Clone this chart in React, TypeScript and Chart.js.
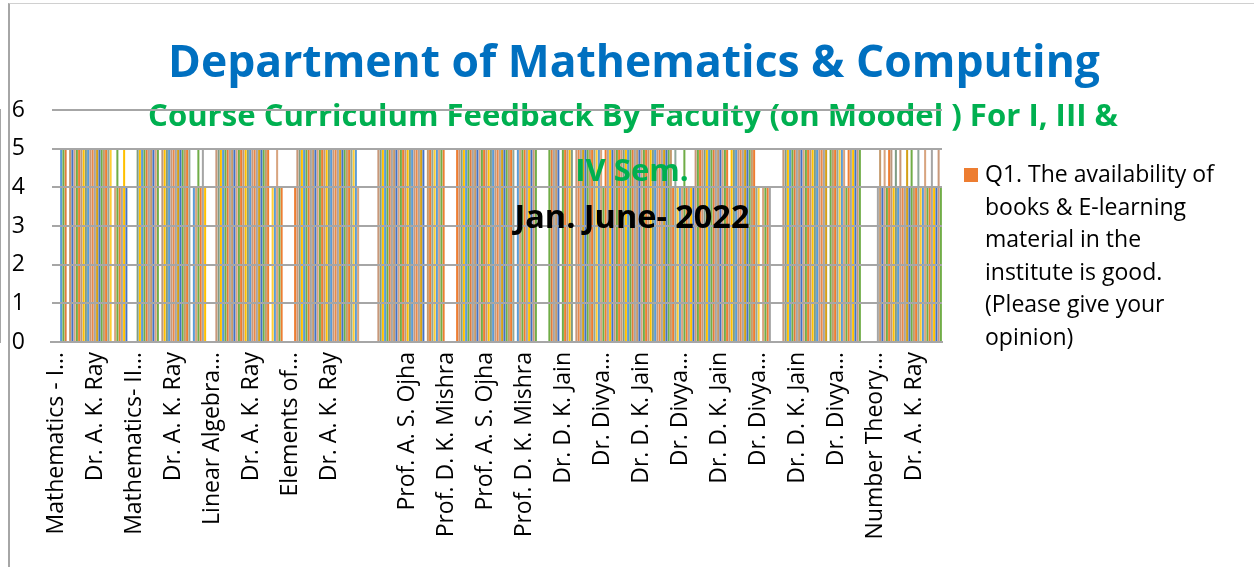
import React, { useEffect, useRef } from 'react';
import { Chart, registerables } from 'chart.js';

Chart.register(...registerables);

const N = null;

const TITLE = 'Department of Mathematics & Computing';
const SUBTITLE_LINE_1 = 'Course Curriculum Feedback By Faculty (on Moodel ) For I, III &';
const SUBTITLE_LINE_2 = 'IV Sem.';
const SESSION = 'Jan. June- 2022';

// tick labels shown under the plot (one per slot)
const X_LABELS = [
  'Mathematics - I…', 'Dr. A. K. Ray', 'Mathematics- II…', 'Dr. A. K. Ray',
  'Linear Algebra…', 'Dr. A. K. Ray', 'Elements of…', 'Dr. A. K. Ray', '',
  'Prof. A. S. Ojha', 'Prof. D. K. Mishra', 'Prof. A. S. Ojha', 'Prof. D. K. Mishra',
  'Dr. D. K. Jain', 'Dr. Divya…', 'Dr. D. K. Jain', 'Dr. Divya…', 'Dr. D. K. Jain',
  'Dr. Divya…', 'Dr. D. K. Jain', 'Dr. Divya…', 'Number Theory…', 'Dr. A. K. Ray',
];

// course / faculty groups that carry the bars
const CATEGORIES = [
  'Mathematics - I / Dr. A. K. Ray', 'Mathematics- II / Dr. A. K. Ray',
  'Linear Algebra / Dr. A. K. Ray', 'Elements of / Dr. A. K. Ray',
  'Prof. A. S. Ojha / Prof. D. K. Mishra', 'Prof. A. S. Ojha / Prof. D. K. Mishra (2)',
  'Dr. D. K. Jain / Dr. Divya (1)', 'Dr. D. K. Jain / Dr. Divya (2)',
  'Dr. D. K. Jain / Dr. Divya (3)', 'Dr. D. K. Jain / Dr. Divya (4)',
  'Number Theory / Dr. A. K. Ray',
];

const Y_MIN = 0;
const Y_MAX = 6;

const SERIES_NAMES = [
  'Q1. The availability of books & E-learning material in the institute is good. (Please give your opinion)',
  'Q2', 'Q3', 'Q4', 'Q5', 'Q6', 'Q7', 'Q8', 'Q9', 'Q10', 'Q11', 'Q12',
  'Q13', 'Q14', 'Q15', 'Q16', 'Q17', 'Q18', 'Q19', 'Q20', 'Q21', 'Q22', 'Q23', 'Q24',
  'Q25', 'Q26', 'Q27', 'Q28', 'Q29', 'Q30', 'Q31', 'Q32', 'Q33', 'Q34', 'Q35', 'Q36',
];

const SERIES_COLORS = [
  '#ED7D31', '#C8987A', '#7F9C86', '#FFC000', '#5B9BD5', '#70AD47',
  '#E07B3C', '#A5A5A5', '#C49A6C', '#4472C4', '#D8A47F', '#70AD47',
  '#ED7D31', '#B9977F', '#FFC000', '#7F9C86', '#5B9BD5', '#C8987A',
  '#E8894A', '#A5A5A5', '#D4A017', '#4472C4', '#70AD47', '#C49A6C',
  '#ED7D31', '#8FA89A', '#FFCD33', '#5B9BD5', '#D8A47F', '#70AD47',
  '#ED7D31', '#A5A5A5', '#FFC000', '#4472C4', '#C8987A', '#70AD47',
];

// values per group, one entry per question (Q1..Q36); null = no response
const CAT01 = [N, N, N, N, 5, 5, 5, N, 5, 5, 5, 5, 5, 5, 5, 5, 5, 5, 5, 5, 5, 5, 5, 5, 5, 5, 5, N, 4, 5, 4, 4, 5, 4, N, N];
const CAT02 = [N, N, 5, 5, 5, 5, 5, 5, 5, 5, 5, 5, N, 5, 5, 5, 5, 5, 5, 5, 5, 5, 5, 5, 5, 5, N, 4, 4, 5, 4, 5, 4, N, N, N];
const CAT03 = [N, 5, 5, 5, 5, 5, 5, 5, 5, 5, 5, 5, 5, 5, 5, 5, 5, 5, 5, 5, 5, 5, 5, 5, 5, N, 4, 4, 5, 4, 4, N, N, N, N, N];
const CAT04 = [4, 5, 5, 5, 5, 5, 5, 5, 5, 5, 5, 5, 5, 5, 5, 5, 5, 5, 5, 5, 5, 5, 5, 5, 5, 5, 5, 5, 4, N, N, N, N, N, N, N];
const CAT05 = [N, 5, 5, 5, 5, 5, 5, 5, 5, 5, 5, 5, 5, 5, 5, 5, 5, 5, 5, 5, 5, 5, N, 5, 5, 5, 5, 5, 5, 5, 5, N, N, N, N, N];
const CAT06 = [5, 5, 5, 5, 5, 5, 5, 5, 5, 5, 5, 5, 5, 5, 5, 5, 5, 5, 5, 5, 5, 5, 5, 5, 5, 5, N, 5, 5, 5, 5, 5, 5, 5, 5, 5];
const CAT07 = [N, N, N, N, N, 5, 5, 5, 5, 5, N, 5, 5, 5, 5, 5, N, 5, 5, 5, 5, 5, 5, 5, 5, 5, 5, 5, 5, 4, 5, 5, 5, 5, 5, 5];
const CAT08 = [5, 5, 5, 5, 5, 5, 5, 5, 5, 5, 5, 5, 5, 5, 5, 5, 5, 5, 5, 5, 5, 5, 5, 5, 4, 5, 4, 4, 4, 5, 4, 4, 4, 4, 5, 5];
const CAT09 = [5, 5, 5, 5, 5, 5, 5, 5, 5, 5, 5, 5, 5, 4, 5, 5, 5, 5, 5, 5, 5, 5, 5, 5, 5, 4, 4, N, 4, 4, 4, 4, N, N, N, N];
const CAT10 = [N, 5, 5, 5, 5, 5, 5, 5, 5, 5, 5, 5, 5, 5, 5, 5, 5, 5, 5, 5, 5, N, 5, 5, 5, 5, 5, 5, 5, 4, 5, 5, 5, 5, 5, 5];
const CAT11 = [N, N, N, N, N, N, N, 4, 5, 4, 5, 4, 5, 5, 4, 5, 4, 5, 4, 4, 5, 4, 5, 4, 4, 5, 4, 4, 5, 4, 4, 5, 4, 4, 5, 4];

const GROUPS = [CAT01, CAT02, CAT03, CAT04, CAT05, CAT06, CAT07, CAT08, CAT09, CAT10, CAT11];

const FONT = '"Open Sans", "DejaVu Sans", sans-serif';
const GRID = '#A6A6A6';

function fitFont(ctx: CanvasRenderingContext2D, text: string, weight: string, width: number) {
  ctx.font = `${weight} 100px ${FONT}`;
  const w = ctx.measureText(text).width;
  return (100 * width) / w;
}

function wrap(ctx: CanvasRenderingContext2D, text: string, maxWidth: number) {
  const words = text.split(' ');
  const lines: string[] = [];
  let cur = '';
  for (const w of words) {
    const test = cur ? cur + ' ' + w : w;
    if (cur && ctx.measureText(test).width > maxWidth) {
      lines.push(cur);
      cur = w;
    } else {
      cur = test;
    }
  }
  if (cur) lines.push(cur);
  return lines;
}

const overlayPlugin = {
  id: 'overlayTexts',
  afterDatasetsDraw(chart: any) {
    const ctx: CanvasRenderingContext2D = chart.ctx;
    ctx.save();
    ctx.textAlign = 'center';
    ctx.textBaseline = 'alphabetic';

    const tSize = fitFont(ctx, TITLE, 'bold', 932);
    ctx.font = `bold ${tSize}px ${FONT}`;
    ctx.fillStyle = '#0070C0';
    ctx.fillText(TITLE, 634, 77);

    const sSize = fitFont(ctx, SUBTITLE_LINE_1, 'bold', 970);
    ctx.font = `bold ${sSize}px ${FONT}`;
    ctx.fillStyle = '#00B050';
    ctx.fillText(SUBTITLE_LINE_1, 633, 126);
    ctx.fillText(SUBTITLE_LINE_2, 632, 181);
    ctx.restore();
  },
  afterDraw(chart: any) {
    const ctx: CanvasRenderingContext2D = chart.ctx;
    ctx.save();
    ctx.textAlign = 'center';
    ctx.textBaseline = 'alphabetic';
    const jSize = fitFont(ctx, SESSION, 'bold', 235);
    ctx.font = `bold ${jSize}px ${FONT}`;
    ctx.fillStyle = '#000000';
    ctx.fillText(SESSION, 632, 228);

    ctx.font = `23px ${FONT}`;
    ctx.textAlign = 'left';
    ctx.fillStyle = SERIES_COLORS[0];
    ctx.fillRect(964, 168, 14, 14);
    ctx.fillStyle = '#000000';
    const lines = wrap(ctx, SERIES_NAMES[0], 245);
    lines.forEach((ln, i) => ctx.fillText(ln, 985, 182 + i * 32.6));
    ctx.restore();
  },
};

export default function App() {
  const ref = useRef<HTMLCanvasElement>(null);

  useEffect(() => {
    if (!ref.current) return;
    const datasets = SERIES_NAMES.map((name, s) => ({
      label: name,
      data: GROUPS.map((g) => g[s]),
      backgroundColor: SERIES_COLORS[s],
      borderWidth: 0,
      categoryPercentage: 1,
      barPercentage: 0.9,
      xAxisID: 'x',
      yAxisID: 'y',
    }));

    const chart = new Chart(ref.current, {
      type: 'bar',
      data: { labels: CATEGORIES, datasets },
      plugins: [overlayPlugin],
      options: {
        animation: false,
        responsive: false,
        devicePixelRatio: 1,
        layout: { padding: { left: 0, right: 312, top: 110, bottom: 0 } },
        plugins: {
          legend: { display: false },
          title: { display: false },
          tooltip: { enabled: false },
        },
        scales: {
          x: {
            type: 'category',
            display: false,
            offset: true,
          },
          xLabels: {
            type: 'linear',
            position: 'bottom',
            offset: false,
            bounds: 'data',
            min: -5 / 39,
            max: 886 / 39,
            afterBuildTicks: (axis: any) => {
              axis.ticks = X_LABELS.map((_, i) => ({ value: i }));
            },
            afterFit: (axis: any) => {
              axis.height = 225;
            },
            grid: { display: false, drawTicks: false, offset: false },
            border: { display: true, color: GRID, width: 2 },
            ticks: {
              autoSkip: false,
              maxRotation: 90,
              minRotation: 90,
              padding: 10,
              color: '#000000',
              font: { family: FONT, size: 23 },
              callback: (_v: any, i: number) => X_LABELS[i],
            },
          },
          y: {
            min: Y_MIN,
            max: Y_MAX,
            afterFit: (axis: any) => {
              axis.width = 51;
            },
            grid: { color: GRID, lineWidth: 2, drawTicks: false, z: 1 },
            border: { display: true, color: GRID, width: 2 },
            ticks: {
              stepSize: 1,
              padding: 26,
              color: '#000000',
              font: { family: FONT, size: 23 },
            },
          },
        },
      } as any,
    });
    return () => chart.destroy();
  }, []);

  return (
    <div style={{ position: 'fixed', left: 0, top: 0, width: 1254, height: 567, background: '#ffffff' }}>
      <div
        style={{
          position: 'absolute', left: 8, top: 3, right: 0, bottom: 0,
          borderLeft: '2px solid #A6A6A6', borderTop: '1px solid #D0D0D0',
        }}
      />
      <canvas ref={ref} width={1254} height={567} style={{ position: 'absolute', left: 0, top: 0 }} />
    </div>
  );
}
